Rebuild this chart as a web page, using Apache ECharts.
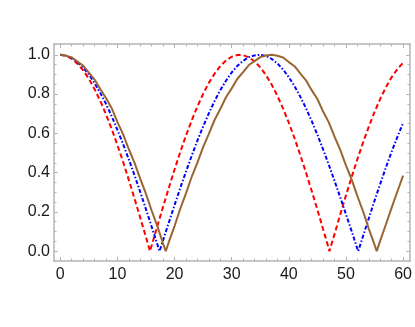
<!DOCTYPE html>
<html><head><meta charset="utf-8">
<script src="https://cdn.jsdelivr.net/npm/echarts@6/dist/echarts.min.js"></script>
<style>html,body{margin:0;padding:0;background:#fff}#c{width:415px;height:327px}</style>
</head><body><div id="c"></div>
<script>
const xTickLabels = [0, 10, 20, 30, 40, 50, 60];
const yTickLabels = [0, 0.2, 0.4, 0.6, 0.8, 1.0];
const xMinorTicks = [0,2,4,6,8,10,12,14,16,18,20,22,24,26,28,30,32,34,36,38,40,42,44,46,48,50,52,54,56,58,60];
const yMinorTicks = [0,0.05,0.1,0.15,0.2,0.25,0.3,0.35,0.4,0.45,0.5,0.55,0.6,0.65,0.7,0.75,0.8,0.85,0.9,0.95,1.0];

const redX = [0,1,2,3,4,5,6,7,8,9,10,11,12,13,14,15,15.7,16,17,18,19,20,21,22,23,24,25,26,27,28,29,30,31,32,33,34,35,36,37,38,39,40,41,42,43,44,45,46,47,47.1,48,49,50,51,52,53,54,55,56,57,58,59,60];
const redY = [1.000,0.995,0.980,0.955,0.921,0.878,0.825,0.765,0.697,0.622,0.540,0.454,0.362,0.267,0.170,0.071,0.000,0.029,0.129,0.227,0.323,0.416,0.505,0.589,0.666,0.737,0.801,0.857,0.904,0.942,0.971,0.990,0.999,0.998,0.987,0.967,0.936,0.897,0.848,0.791,0.726,0.654,0.575,0.490,0.401,0.307,0.211,0.112,0.012,0.000,0.087,0.187,0.284,0.378,0.469,0.554,0.634,0.709,0.776,0.835,0.886,0.927,0.960];

const blueX = [0,1,2,3,4,5,6,7,8,9,10,11,12,13,14,15,16,17,17.38,18,19,20,21,22,23,24,25,26,27,28,29,30,31,32,33,34,35,36,37,38,39,40,41,42,43,44,45,46,47,48,49,50,51,52,52.15,53,54,55,56,57,58,59,60];
const blueY = [1.000,0.996,0.984,0.963,0.935,0.900,0.856,0.806,0.750,0.687,0.618,0.545,0.467,0.386,0.301,0.213,0.124,0.034,0.000,0.056,0.146,0.235,0.322,0.405,0.486,0.563,0.635,0.702,0.764,0.820,0.868,0.910,0.944,0.969,0.988,0.997,1.000,0.994,0.979,0.956,0.925,0.886,0.840,0.787,0.728,0.663,0.593,0.518,0.440,0.358,0.274,0.188,0.101,0.012,0.000,0.078,0.168,0.257,0.343,0.427,0.507,0.582,0.653];

const brownX = [0,1,2,3,4,5,6,7,8,9,10,11,12,13,14,15,16,17,18,18.46,19,20,21,22,23,24,25,26,27,28,29,30,31,32,33,34,35,36,37,38,39,40,41,42,43,44,45,46,47,48,49,50,51,52,53,54,55,55.38,56,57,58,59,60];
const brownY = [1.000,0.996,0.987,0.966,0.945,0.909,0.874,0.826,0.780,0.728,0.657,0.595,0.519,0.450,0.368,0.292,0.206,0.126,0.038,0.000,0.047,0.128,0.216,0.294,0.379,0.451,0.530,0.597,0.668,0.724,0.784,0.829,0.878,0.912,0.948,0.968,0.988,0.996,1.000,0.995,0.986,0.963,0.942,0.905,0.870,0.820,0.775,0.711,0.656,0.583,0.516,0.437,0.364,0.280,0.202,0.114,0.033,0.000,0.054,0.137,0.222,0.304,0.385];

function pairs(xs, ys) { return xs.map((x, i) => [x, ys[i]]); }

const FRAME = '#b4b4b4';
const XMIN = -1.1, XMAX = 61.2, YMIN = -0.05, YMAX = 1.055;
const font = 'Liberation Sans, Arial, sans-serif';

function xAx(pos, vals, len, labels, line) {
  return {
    type: 'value', position: pos, min: XMIN, max: XMAX,
    splitLine: { show: false },
    axisLine: { show: line, onZero: false, lineStyle: { color: FRAME, width: 1.5 } },
    axisTick: { show: true, inside: true, length: len, customValues: vals, lineStyle: { color: FRAME, width: 1 } },
    axisLabel: labels ? { show: true, customValues: xTickLabels, margin: 6, color: '#1a1a1a', fontSize: 16, fontFamily: font, formatter: v => String(Math.round(v)) } : { show: false }
  };
}
function yAx(pos, vals, len, labels, line) {
  return {
    type: 'value', position: pos, min: YMIN, max: YMAX,
    splitLine: { show: false },
    axisLine: { show: line, onZero: false, lineStyle: { color: FRAME, width: 1.5 } },
    axisTick: { show: true, inside: true, length: len, customValues: vals, lineStyle: { color: FRAME, width: 1 } },
    axisLabel: labels ? { show: true, customValues: yTickLabels, margin: 4, color: '#1a1a1a', fontSize: 16, fontFamily: font, formatter: v => v.toFixed(1) } : { show: false }
  };
}

const chart = echarts.init(document.getElementById('c'), null, { renderer: 'canvas' });
chart.setOption({
  animation: false,
  backgroundColor: '#fff',
  grid: { left: 54, right: 4, top: 44, bottom: 66, containLabel: false },
  xAxis: [
    xAx('bottom', xTickLabels, 4, true, true),
    xAx('bottom', xMinorTicks, 2.5, false, false),
    xAx('top', xTickLabels, 4, false, true),
    xAx('top', xMinorTicks, 2.5, false, false)
  ],
  yAxis: [
    yAx('left', yTickLabels, 4, true, true),
    yAx('left', yMinorTicks, 2.5, false, false),
    yAx('right', yTickLabels, 4, false, true),
    yAx('right', yMinorTicks, 2.5, false, false)
  ],
  series: [
    { type: 'line', data: pairs(redX, redY), showSymbol: false, smooth: false, lineStyle: { color: '#ff0000', width: 2, type: [5, 3] }, z: 3 },
    { type: 'line', data: pairs(blueX, blueY), showSymbol: false, smooth: false, lineStyle: { color: '#0000ff', width: 2, type: [4, 2, 1.5, 2] }, z: 4 },
    { type: 'line', data: pairs(brownX, brownY), showSymbol: false, smooth: false, lineStyle: { color: '#996633', width: 2 }, z: 5 }
  ]
});
</script>
</body></html>
